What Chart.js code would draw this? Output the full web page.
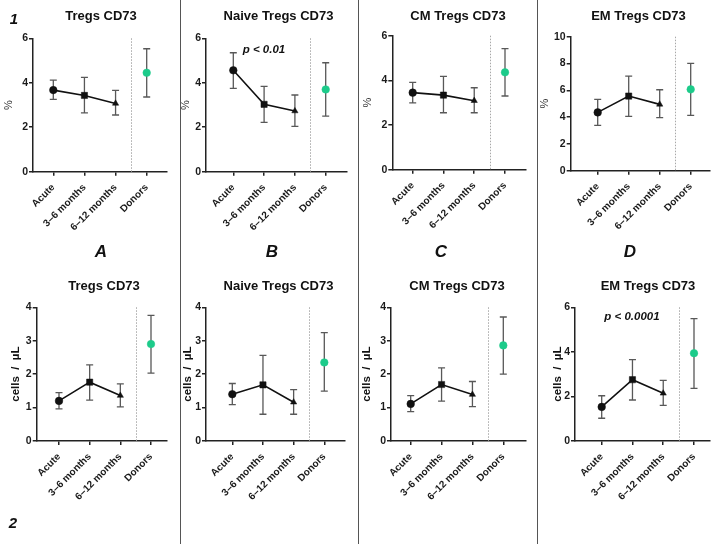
<!DOCTYPE html>
<html>
<head>
<meta charset="utf-8">
<script src="https://cdn.jsdelivr.net/npm/chart.js@4.4.1/dist/chart.umd.min.js"></script>
<style>
  body { margin: 0; background: #fff; }
  #fig { position: relative; width: 720px; height: 552px; overflow: hidden; font-family: "Liberation Sans", Arial, sans-serif; color: #111; }
  #fig canvas { position: absolute; }
  .title { position: absolute; font-weight: bold; font-size: 13px; line-height: 15px; white-space: nowrap; transform: translateX(-50%); }
  .pval { position: absolute; font-weight: bold; font-style: italic; font-size: 11.5px; line-height: 13px; white-space: nowrap; transform: translateX(-50%); }
  .letter { position: absolute; font-weight: bold; font-style: italic; font-size: 15px; line-height: 16px; transform: translateX(-50%); }
  .sep { position: absolute; width: 1px; background: #555; }
</style>
</head>
<body>
<div id="fig"></div>
<script>
// categories on the x axis
const categories = ['Acute', '3–6 months', '6–12 months', 'Donors'];

// row 1: % CD73+ (mean, lower and upper error bar)
const tregsPct = [3.67, 3.43, 3.07, 4.45];
const tregsPctLow = [3.25, 2.65, 2.55, 3.36];
const tregsPctHigh = [4.12, 4.24, 3.66, 5.53];

const naivePct = [4.56, 3.03, 2.73, 3.70];
const naivePctLow = [3.75, 2.22, 2.04, 2.50];
const naivePctHigh = [5.35, 3.84, 3.45, 4.90];

const cmPct = [3.45, 3.34, 3.09, 4.36];
const cmPctLow = [2.99, 2.55, 2.55, 3.30];
const cmPctHigh = [3.91, 4.18, 3.67, 5.42];

const emPct = [4.35, 5.57, 4.95, 6.07];
const emPctLow = [3.38, 4.05, 3.96, 4.13];
const emPctHigh = [5.32, 7.06, 6.04, 8.01];

// row 2: cells / µL
const tregsAbs = [1.20, 1.76, 1.36, 2.90];
const tregsAbsLow = [0.96, 1.22, 1.02, 2.03];
const tregsAbsHigh = [1.45, 2.28, 1.71, 3.76];

const naiveAbs = [1.40, 1.68, 1.16, 2.35];
const naiveAbsLow = [1.09, 0.80, 0.80, 1.49];
const naiveAbsHigh = [1.72, 2.56, 1.54, 3.24];

const cmAbs = [1.11, 1.69, 1.39, 2.86];
const cmAbsLow = [0.88, 1.19, 1.03, 2.00];
const cmAbsHigh = [1.36, 2.19, 1.78, 3.71];

const emAbs = [1.53, 2.75, 2.14, 3.94];
const emAbsLow = [1.02, 1.84, 1.60, 2.36];
const emAbsHigh = [2.03, 3.65, 2.72, 5.49];

const pctTitle = '%';
const absTitle = 'cells  /  µL';
const green = '#1ccb8a';

// panel layout: box = canvas [x, y, w, h], area = plot [left, top, right, bottom],
// cats = pixel x of first and last category
const panels = [
  { box: [0, 0, 180, 270], area: [33, 38.3, 167, 171.7], cats: [53.3, 146.7], yMax: 6, yStep: 2, yTitle: pctTitle, yTitleX: 8.5,
    title: 'Tregs CD73', titleX: 101, mean: tregsPct, low: tregsPctLow, high: tregsPctHigh },
  { box: [180, 0, 178, 270], area: [206, 38.3, 347, 171.7], cats: [233.3, 325.7], yMax: 6, yStep: 2, yTitle: pctTitle, yTitleX: 185.5,
    title: 'Naive Tregs CD73', titleX: 278.5, mean: naivePct, low: naivePctLow, high: naivePctHigh,
    p: 'p < 0.01', pX: 264, pY: 43 },
  { box: [358, 0, 179, 270], area: [392.3, 35.7, 525.7, 169.7], cats: [412.7, 505], yMax: 6, yStep: 2, yTitle: pctTitle, yTitleX: 368,
    title: 'CM Tregs CD73', titleX: 458, mean: cmPct, low: cmPctLow, high: cmPctHigh },
  { box: [537, 0, 183, 270], area: [570.7, 36.7, 710, 170.7], cats: [597.7, 690.7], yMax: 10, yStep: 2, yTitle: pctTitle, yTitleX: 545,
    title: 'EM Tregs CD73', titleX: 638.5, mean: emPct, low: emPctLow, high: emPctHigh },
  { box: [0, 270, 180, 282], area: [36.7, 307.3, 166.7, 441], cats: [59, 151], yMax: 4, yStep: 1, yTitle: absTitle, yTitleX: 15.7,
    title: 'Tregs CD73', titleX: 104, mean: tregsAbs, low: tregsAbsLow, high: tregsAbsHigh },
  { box: [180, 270, 178, 282], area: [206, 307.3, 345, 441], cats: [232.3, 324.3], yMax: 4, yStep: 1, yTitle: absTitle, yTitleX: 188.3,
    title: 'Naive Tregs CD73', titleX: 278.5, mean: naiveAbs, low: naiveAbsLow, high: naiveAbsHigh },
  { box: [358, 270, 179, 282], area: [391, 307.3, 525.7, 441], cats: [410.7, 503.3], yMax: 4, yStep: 1, yTitle: absTitle, yTitleX: 367.3,
    title: 'CM Tregs CD73', titleX: 457, mean: cmAbs, low: cmAbsLow, high: cmAbsHigh },
  { box: [537, 270, 183, 282], area: [575, 307.3, 710, 441], cats: [601.7, 694], yMax: 6, yStep: 2, yTitle: absTitle, yTitleX: 558.3,
    title: 'EM Tregs CD73', titleX: 648, mean: emAbs, low: emAbsLow, high: emAbsHigh,
    p: 'p < 0.0001', pX: 632, pY: 310 }
];

// Error bars and dotted patients/donors divider, drawn under the points
const errorBars = {
  id: 'errorBars',
  beforeDatasetsDraw(chart, args, opts) {
    const { ctx, chartArea, scales: { x, y } } = chart;
    ctx.save();
    const sx = Math.round(x.getPixelForValue(2.5)) + 0.5;
    ctx.strokeStyle = '#a8a8a8';
    ctx.lineWidth = 1;
    ctx.setLineDash([1.5, 1.5]);
    ctx.beginPath();
    ctx.moveTo(sx, chartArea.top);
    ctx.lineTo(sx, chartArea.bottom);
    ctx.stroke();
    ctx.setLineDash([]);
    ctx.strokeStyle = '#585858';
    ctx.lineWidth = 1.3;
    opts.low.forEach((lo, i) => {
      const px = x.getPixelForValue(i);
      const y0 = y.getPixelForValue(lo);
      const y1 = y.getPixelForValue(opts.high[i]);
      ctx.beginPath();
      ctx.moveTo(px, y0);
      ctx.lineTo(px, y1);
      ctx.moveTo(px - 3.5, y0); ctx.lineTo(px + 3.5, y0);
      ctx.moveTo(px - 3.5, y1); ctx.lineTo(px + 3.5, y1);
      ctx.stroke();
    });
    ctx.restore();
  }
};

const fig = document.getElementById('fig');

function addText(cls, text, x, y) {
  const d = document.createElement('div');
  d.className = cls;
  d.textContent = text;
  d.style.left = x + 'px';
  d.style.top = y + 'px';
  fig.appendChild(d);
}

function makePanel(p) {
  const [bx, by, bw, bh] = p.box;
  const [al, at, ar, ab] = p.area;
  const cv = document.createElement('canvas');
  cv.width = bw;
  cv.height = bh;
  cv.style.left = bx + 'px';
  cv.style.top = by + 'px';
  fig.appendChild(cv);

  const spacing = (p.cats[1] - p.cats[0]) / 3;
  const xMin = -(p.cats[0] - al) / spacing;
  const xMax = 3 + (ar - p.cats[1]) / spacing;
  const titleSize = p.yTitle === pctTitle ? 11 : 11.5;

  new Chart(cv.getContext('2d'), {
    type: 'line',
    data: {
      datasets: [
        {
          data: p.mean.slice(0, 3).map((v, i) => ({ x: i, y: v })),
          borderColor: '#111',
          backgroundColor: '#111',
          borderWidth: 1.6,
          pointStyle: ['circle', 'rect', 'triangle'],
          pointRadius: [3.8, 4.4, 3.6],
          pointBorderWidth: 0.5
        },
        {
          data: [{ x: 3, y: p.mean[3] }],
          showLine: false,
          borderColor: green,
          backgroundColor: green,
          pointRadius: 3.8,
          pointBorderWidth: 0.5
        }
      ]
    },
    options: {
      responsive: false,
      animation: false,
      events: [],
      layout: { padding: { left: 0, top: at - by, right: bx + bw - ar, bottom: 0 } },
      plugins: {
        legend: { display: false },
        tooltip: { enabled: false },
        errorBars: { low: p.low, high: p.high }
      },
      scales: {
        x: {
          type: 'linear',
          min: xMin,
          max: xMax,
          afterBuildTicks: s => { s.ticks = [0, 1, 2, 3].map(v => ({ value: v })); },
          afterFit: s => { s.height = by + bh - ab; },
          grid: { drawOnChartArea: false, tickLength: 4, color: '#222', lineWidth: 1.5 },
          border: { color: '#222', width: 1.5 },
          ticks: {
            autoSkip: false,
            minRotation: 45,
            maxRotation: 45,
            padding: 6,
            color: '#1a1a1a',
            font: { family: '"Liberation Sans", Arial, sans-serif', size: 10, weight: 'bold' },
            callback: v => categories[v]
          }
        },
        y: {
          min: 0,
          max: p.yMax,
          afterFit: s => { s.width = al - bx; },
          grid: { drawOnChartArea: false, tickLength: 4, color: '#222', lineWidth: 1.5 },
          border: { color: '#222', width: 1.5 },
          ticks: {
            stepSize: p.yStep,
            padding: 1,
            color: '#1a1a1a',
            font: { family: '"Liberation Sans", Arial, sans-serif', size: 10.5, weight: 'bold' }
          },
          title: {
            display: true,
            text: p.yTitle,
            color: p.yTitle === pctTitle ? '#333' : '#111',
            padding: { top: p.yTitleX - bx - titleSize * 0.6, bottom: 0 },
            font: { family: '"Liberation Sans", Arial, sans-serif', size: titleSize, lineHeight: 1.2,
                    weight: p.yTitle === pctTitle ? 'normal' : 'bold' }
          }
        }
      }
    },
    plugins: [errorBars]
  });

  addText('title', p.title, p.titleX, by + 8);
  if (p.p) addText('pval', p.p, p.pX, p.pY);
}

panels.forEach(makePanel);

// panel separators
[180, 358, 537].forEach(x => {
  const d = document.createElement('div');
  d.className = 'sep';
  d.style.left = x + 'px';
  d.style.top = '0px';
  d.style.height = '544px';
  fig.appendChild(d);
});

// row and column letters
addText('letter', '1', 14, 11);
addText('letter', '2', 13, 515);
addText('letter big', 'A', 101, 243);
addText('letter big', 'B', 272, 243);
addText('letter big', 'C', 441, 243);
addText('letter big', 'D', 630, 243);
document.querySelectorAll('.big').forEach(el => { el.style.fontSize = '17px'; el.style.lineHeight = '18px'; });
</script>
</body>
</html>
